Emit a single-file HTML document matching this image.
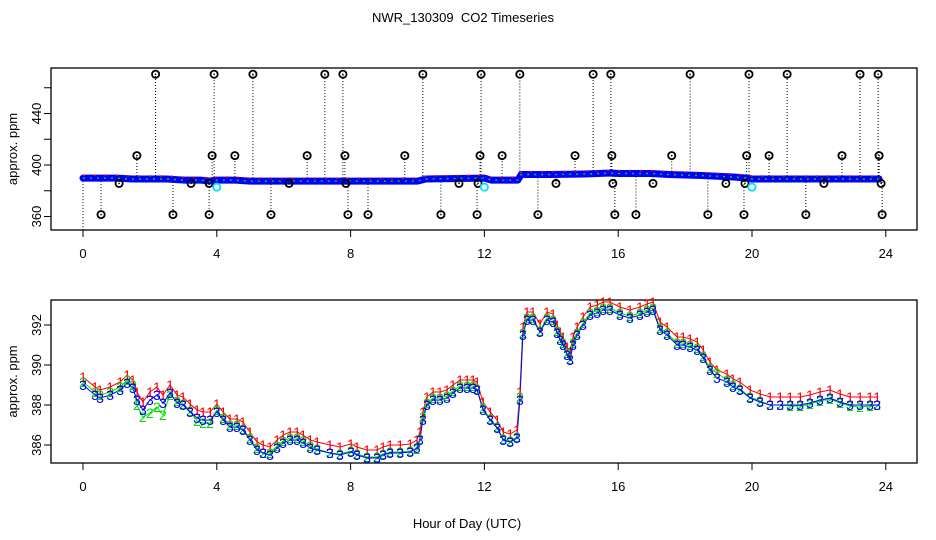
<!DOCTYPE html>
<html><head><meta charset="utf-8"><style>
html,body{margin:0;padding:0;background:#fff;}
svg{display:block;font-family:"Liberation Sans",Arial,sans-serif;}
</style></head><body>
<svg id="chart" width="936" height="540" viewBox="0 0 936 540">
<rect x="0" y="0" width="936" height="540" fill="#fff"/>
<text x="463" y="22" font-size="13" text-anchor="middle">NWR_130309&#160; CO2 Timeseries</text>
<text x="467" y="528" font-size="13" text-anchor="middle">Hour of Day (UTC)</text>
<g id="top"></g>
<g id="bot"></g>
</svg>
<script>
// ---- data ----
const xTicks = [0,4,8,12,16,20,24];
const topYTicks = [360,380,400,420,440,460];
const topYLabels = [360,400,440];
const botYTicks = [386,388,390,392];
// top panel raw baseline
const topHours = [0,0.5,1,1.5,2,2.5,3,3.5,3.8,4,4.5,5,5.5,6,6.5,7,7.5,8,8.5,9,9.5,10,10.25,11,12,12.2,13,13.1,14,15,15.8,16,17,17.5,18.5,19.5,19.85,20,21,22,23,23.8];
const topValues = [389.8,389.8,389.8,389.1,389.1,389.1,388.3,388.3,387.5,388.3,388.3,387.5,387.5,387.5,387.5,387.5,387.5,387.5,387.5,387.5,387.5,387.5,389.1,389.45,389.8,388.3,388.3,392.6,392.6,393.0,393.75,393.4,393.4,392.6,391.8,390.6,389.8,389.1,389.1,389.1,389.1,389.1];
const highHours = [2.17,3.92,5.08,7.23,7.77,10.16,11.9,13.06,15.25,15.78,18.15,19.91,21.05,23.23,23.77];
const highValue = 470.5;
const midHours = [1.61,3.86,4.54,6.7,7.83,9.62,11.87,12.53,14.71,15.81,17.6,19.84,20.51,22.69,23.8];
const midValue = 407.3;
const lowHours = [0.54,2.69,3.77,5.62,7.92,8.52,10.7,11.78,13.6,15.9,16.53,18.68,19.76,21.61,23.89];
const lowValue = 361.5;
const nearHours = [1.08,3.23,3.77,6.16,7.86,11.24,11.81,14.14,15.84,17.04,19.22,19.79,22.15,23.86];
const nearValue = 385.7;
const cyanHours = [4.0,12.0,20.0];
const cyanValue = 382.8;
// bottom panel series
const hours = [0,.36,.51,.81,1.11,1.32,1.49,1.61,1.79,2.0,2.21,2.39,2.6,2.81,2.99,3.2,3.41,3.59,3.8,4.0,4.19,4.39,4.6,4.78,4.99,5.2,5.38,5.59,5.8,5.98,6.19,6.4,6.58,6.79,7.0,7.38,7.68,8.01,8.19,8.49,8.79,8.97,9.18,9.48,9.78,9.98,10.07,10.16,10.28,10.46,10.67,10.88,11.06,11.27,11.48,11.66,11.78,11.96,12.17,12.38,12.56,12.77,12.97,13.06,13.15,13.27,13.45,13.66,13.87,14.05,14.17,14.26,14.35,14.47,14.56,14.65,14.77,14.95,15.16,15.37,15.55,15.75,16.05,16.35,16.65,16.86,17.04,17.25,17.46,17.76,17.94,18.15,18.36,18.54,18.74,18.95,19.25,19.43,19.64,19.94,20.24,20.54,20.84,21.14,21.44,21.73,22.03,22.33,22.63,22.93,23.23,23.53,23.74];
const series3 = [389.0,388.5,388.35,388.5,388.75,389.1,388.85,388.25,387.75,388.25,388.5,388.1,388.6,388.1,388.0,387.65,387.35,387.25,387.25,387.65,387.25,386.9,386.9,386.75,386.25,385.75,385.6,385.5,385.85,386.1,386.25,386.25,386.1,385.85,385.75,385.6,385.5,385.65,385.5,385.35,385.35,385.5,385.6,385.6,385.65,385.85,386.25,387.25,388.0,388.25,388.25,388.35,388.6,388.85,388.85,388.85,388.75,387.75,387.25,386.85,386.25,386.15,386.35,388.25,391.5,392.25,392.25,391.65,392.25,392.15,391.6,391.25,391.0,390.5,390.25,391.0,391.5,392.0,392.5,392.6,392.75,392.75,392.5,392.35,392.5,392.65,392.75,391.75,391.5,391.0,391.0,390.9,390.75,390.35,389.75,389.35,389.15,388.9,388.75,388.35,388.15,388.0,388.0,388.0,388.0,388.1,388.25,388.35,388.15,388.0,388.0,388.0,388.0];
const series1 = [389.4,388.9,388.75,388.9,389.15,389.5,389.25,388.65,388.15,388.65,388.9,388.5,389.0,388.5,388.4,388.05,387.75,387.65,387.65,388.05,387.65,387.3,387.3,387.15,386.65,386.15,386.0,385.9,386.25,386.5,386.65,386.65,386.5,386.25,386.15,386.0,385.9,386.05,385.9,385.75,385.75,385.9,386.0,386.0,386.05,386.25,386.65,387.65,388.4,388.65,388.65,388.75,389.0,389.25,389.25,389.25,389.15,388.15,387.65,387.25,386.65,386.55,386.75,388.65,391.9,392.65,392.65,392.05,392.65,392.55,392.0,391.65,391.4,390.9,390.65,391.4,391.9,392.4,392.9,393.0,393.15,393.15,392.9,392.75,392.9,393.05,393.15,392.15,391.9,391.4,391.4,391.3,391.15,390.75,390.15,389.75,389.55,389.3,389.15,388.75,388.55,388.4,388.4,388.4,388.4,388.5,388.65,388.75,388.55,388.4,388.4,388.4,388.4];
const series2 = [389.15,388.65,388.5,388.65,388.9,389.25,389.0,388.0,387.4,387.6,387.9,387.5,388.5,388.2,388.05,387.7,387.2,387.1,387.1,387.75,387.35,387.0,387.0,386.8,386.35,385.85,385.6,385.6,385.95,386.2,386.35,386.35,386.2,385.95,385.8,385.6,385.55,385.7,385.55,385.4,385.4,385.55,385.65,385.65,385.7,385.8,386.3,387.4,388.1,388.35,388.35,388.45,388.7,388.95,388.95,388.95,388.8,387.85,387.3,386.9,386.3,386.2,386.4,388.4,391.6,392.35,392.35,391.7,392.35,392.25,391.7,391.35,391.1,390.6,390.3,391.1,391.6,392.1,392.6,392.7,392.85,392.85,392.6,392.45,392.6,392.75,392.85,391.85,391.6,391.1,391.1,391.0,390.85,390.45,389.85,389.6,389.25,389.0,388.8,388.4,388.2,388.0,388.0,387.95,387.95,388.05,388.2,388.3,388.1,387.95,387.9,387.95,388.0];

// ---- scales ----
const NS = "http://www.w3.org/2000/svg";
function xs(h){ return 83 + h*33.45; }
function ysTop(v){ return 165 - (v-400)*1.2875; }
function ysBot(v){ return 405 - (v-388)*20; }
function mk(parent, tag, attrs){ const e=document.createElementNS(NS,tag); for(const k in attrs) e.setAttribute(k,attrs[k]); parent.appendChild(e); return e; }

function drawAxes(g, top, bottom, yTicks, yLabels, ys, name){
  const box = mk(g,'rect',{x:51,y:top,width:866,height:bottom-top,fill:'none',stroke:'#000','stroke-width':1.3});
  
  
  xTicks.forEach(t=>{
    const l = mk(g,'line',{x1:xs(t),x2:xs(t),y1:bottom,y2:bottom+7,stroke:'#000','stroke-width':1});
    
    
    const tx = mk(g,'text',{x:xs(t),y:bottom+28,'font-size':13,'text-anchor':'middle'});
    tx.textContent = t;
    
    
  });
  yTicks.forEach(t=>{
    const l = mk(g,'line',{x1:44,x2:51,y1:ys(t),y2:ys(t),stroke:'#000','stroke-width':1});
    
    
  });
  yLabels.forEach(t=>{
    const tx = mk(g,'text',{x:0,y:0,'font-size':13,'text-anchor':'middle',transform:'translate(41,'+ys(t)+') rotate(-90)'});
    tx.textContent = t;
    
    
  });
  const yl = mk(g,'text',{x:0,y:0,'font-size':13,'text-anchor':'middle',transform:'translate(17,'+((top+bottom)/2)+') rotate(-90)'});
  yl.textContent = 'approx. ppm';
  
  
}

// ---- top panel ----
const gt = document.getElementById('top');
drawAxes(gt, 68, 230, topYTicks, topYLabels, ysTop, 'top');
const baseAt = h => { let best=0; for(let i=0;i<topHours.length;i++){ if(Math.abs(topHours[i]-h)<Math.abs(topHours[best]-h)) best=i; } return topValues[best]; };
function stems(arr, val){
  arr.forEach(h=>{
    const l = mk(gt,'line',{x1:xs(h),x2:xs(h),y1:ysTop(baseAt(h)),y2:ysTop(val),stroke:'#000','stroke-width':1,'stroke-dasharray':'1 2'});
    
    
  });
}
stems(highHours, highValue); stems(midHours, midValue); stems(lowHours, lowValue); stems(nearHours, nearValue);
const lead = mk(gt,'line',{x1:xs(0),x2:xs(0),y1:ysTop(topValues[0]),y2:234,stroke:'#000','stroke-width':1,'stroke-dasharray':'1 2'});


const tp = topHours.map((h,i)=>xs(h)+','+ysTop(topValues[i])).join(' ');
const band = mk(gt,'polyline',{points:tp,fill:'none',stroke:'#0000ff','stroke-width':7,'stroke-linejoin':'round','stroke-linecap':'round'});


const rd = mk(gt,'polyline',{points:tp,fill:'none',stroke:'#ff0000','stroke-width':1.5,'stroke-dasharray':'2 9',transform:'translate(0,-3)'});


const gr = mk(gt,'polyline',{points:tp,fill:'none',stroke:'#00cc00','stroke-width':1.5,'stroke-dasharray':'2 5'});


function rings(arr, val, color, nm){
  arr.forEach(h=>{
    const c = mk(gt,'circle',{cx:xs(h),cy:ysTop(val),r:3.6,fill:'none',stroke:color,'stroke-width':1.8});
    
    
    if(color==='#000'){
      const d = mk(gt,'circle',{cx:xs(h),cy:ysTop(val),r:0.8,fill:'#000'});
      
      
    }
  });
}
rings(highHours, highValue, '#000', 'outlier-high');
rings(midHours, midValue, '#000', 'outlier-mid');
rings(lowHours, lowValue, '#000', 'outlier-low');
rings(nearHours, nearValue, '#000', 'outlier-near');
rings(cyanHours, cyanValue, '#00e5ee', 'cyan-point');

// ---- bottom panel ----
const gb = document.getElementById('bot');
drawAxes(gb, 300, 463, botYTicks, botYTicks, ysBot, 'bottom');
const defs = [[series1,'#ff0000','1',0],[series2,'#00dd00','2',0],[series3,'#0000ff','3',0]];
defs.forEach(([vals,col,lab,dy])=>{
  const n = Math.min(vals.length, hours.length);
  const pts = [];
  for(let i=0;i<n;i++) pts.push(xs(hours[i])+','+ysBot(vals[i]));
  const pl = mk(gb,'polyline',{points:pts.join(' '),fill:'none',stroke:col,'stroke-width':1});
  
  
});
defs.forEach(([vals,col,lab,dy])=>{
  const n = Math.min(vals.length, hours.length);
  for(let i=0;i<n;i++){
    const t = mk(gb,'text',{x:xs(hours[i]),y:ysBot(vals[i])+5+dy,'font-size':14,fill:col,'text-anchor':'middle'});
    t.textContent = lab;
    
    
  }
});
</script>
</body></html>
